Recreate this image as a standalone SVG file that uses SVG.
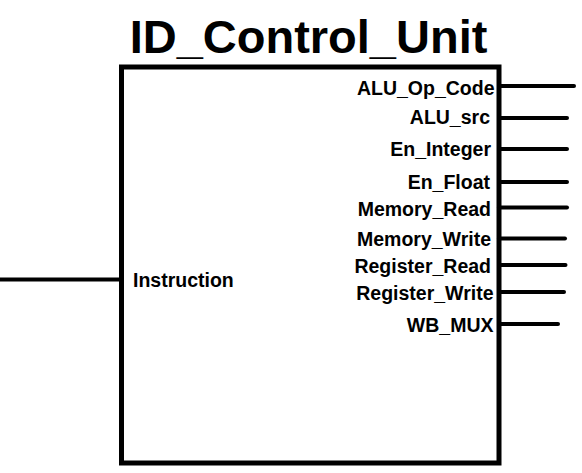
<svg xmlns="http://www.w3.org/2000/svg" width="582" height="473" viewBox="0 0 582 473">
<style>
.t{font-family:"Liberation Sans",Arial,sans-serif;font-weight:bold;fill:#000}
.lbl{font-size:19.5px;text-anchor:end}
.w{stroke:#000;stroke-width:4;stroke-linecap:round;fill:none}
</style>
<rect width="582" height="473" fill="#fff"/>
<text class="t" x="308.5" y="53" font-size="47" text-anchor="middle">ID_Control_Unit</text>
<g id="connectors">
<line class="w" x1="0" y1="279.5" x2="121" y2="279.5" style="stroke-linecap:butt"/>
<line class="w" x1="499" y1="86" x2="574" y2="86"/>
<line class="w" x1="499" y1="118" x2="567" y2="118"/>
<line class="w" x1="499" y1="149" x2="567" y2="149"/>
<line class="w" x1="499" y1="182" x2="567" y2="182"/>
<line class="w" x1="499" y1="207.5" x2="567" y2="207.5"/>
<line class="w" x1="499" y1="238.5" x2="565" y2="238.5"/>
<line class="w" x1="499" y1="265" x2="565.5" y2="265"/>
<line class="w" x1="499" y1="292" x2="564" y2="292"/>
<line class="w" x1="499" y1="324" x2="558" y2="324"/>
</g>
<g id="control_unit">
<rect x="121.5" y="67" width="377.5" height="396" fill="none" stroke="#000" stroke-width="5"/>
<text class="t" x="133" y="287" font-size="19.5">Instruction</text>
<text class="t lbl" x="494.5" y="95">ALU_Op_Code</text>
<text class="t lbl" x="490" y="124">ALU_src</text>
<text class="t lbl" x="491" y="156">En_Integer</text>
<text class="t lbl" x="490" y="188.5">En_Float</text>
<text class="t lbl" x="491" y="216">Memory_Read</text>
<text class="t lbl" x="491" y="246">Memory_Write</text>
<text class="t lbl" x="491" y="273">Register_Read</text>
<text class="t lbl" x="493.5" y="299.5">Register_Write</text>
<text class="t lbl" x="493.5" y="332">WB_MUX</text>
</g>
</svg>
